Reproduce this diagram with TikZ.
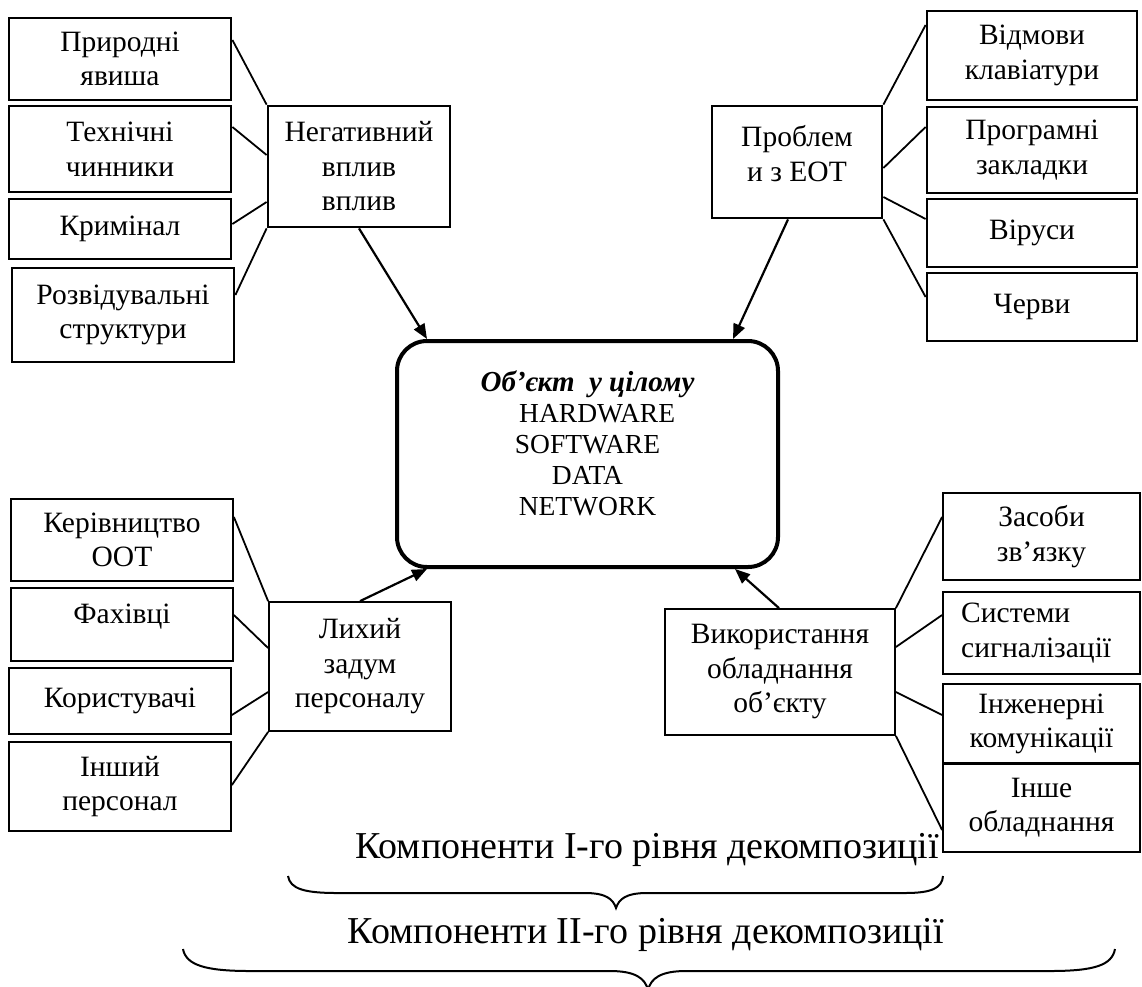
\documentclass[tikz,border=0pt]{standalone}
\usepackage{fontspec}
\setmainfont{Liberation Serif}
\usetikzlibrary{arrows.meta}
\newcommand\boxfont{\fontsize{29.5}{34.5}\selectfont}
\newcommand\objfont{\fontsize{27.5}{31}\selectfont}
\newcommand\objtitlefont{\fontsize{29}{31}\selectfont}
\newcommand\levfont{\fontsize{38}{40}\selectfont}
\begin{document}
\begin{tikzpicture}[x=1pt,y=-1pt,
  thk/.style={draw, line width=2.8pt, align=center, inner sep=0pt, font=\boxfont},
  thn/.style={draw, line width=1.8pt, align=center, inner sep=0pt, font=\boxfont},
  txt/.style={align=center, inner sep=0pt, font=\boxfont},
  conn/.style={line width=1.8pt},
  arr/.style={line width=2.2pt, -{Triangle[length=15pt,width=12pt]}},
  bracestyle/.style={line width=2pt}]
\useasboundingbox (0,0) rectangle (1142,986);

% top-left group
\node[thk, minimum width=222, minimum height=82] (prir) at (120,59) {Природні\\явиша};
\node[thk, minimum width=222, minimum height=86] (tekh) at (120,149) {Технічні\\чинники};
\node[thk, minimum width=222, minimum height=60] (krym) at (120,229) {Кримінал};
\node[thk, minimum width=222, minimum height=94] (rozv) at (123,315) {Розвідувальні\\структури};
\node[thk, minimum width=182, minimum height=121] (neg) at (359,166.5) {Негативний\\вплив\\вплив};

% top-right group
\node[thk, minimum width=210, minimum height=89] (vidm) at (1032,55.5) {Відмови\\клавіатури};
\node[thk, minimum width=210, minimum height=86] (prog) at (1032,150) {Програмні\\закладки};
\node[thk, minimum width=210, minimum height=68] (vir) at (1032,233) {Віруси};
\node[thk, minimum width=210, minimum height=68] (cherv) at (1032,307) {Черви};
\node[thk, minimum width=170, minimum height=112] (probl) at (797,162) {};
\node[txt] (probltext) at (797,153.5) {Проблем\\и з ЕОТ};

% centre
\node[draw, line width=4pt, rounded corners=30pt, minimum width=381, minimum height=226] (obj) at (587.5,454) {};
\node[align=center, inner sep=0pt, font=\objfont] (objtext) at (587.5,443)
  {{\objtitlefont\bfseries\itshape Об’єкт\ \ у цілому}\\\hspace*{0.7em}HARDWARE\\SOFTWARE\\DATA\\NETWORK};

% bottom-left group
\node[thn, minimum width=222, minimum height=82] (kerm) at (122,540) {Керівництво\\ООТ};
\node[thn, minimum width=222, minimum height=73] (fakh) at (122,624.5) {};
\node[txt] (fakhtext) at (122,617) {Фахівці};
\node[thn, minimum width=222, minimum height=66] (kory) at (120,701) {Користувачі};
\node[thn, minimum width=222, minimum height=89] (insh) at (120,786.5) {Інший\\персонал};
\node[thn, minimum width=182, minimum height=129] (lykh) at (360,666.5) {Лихий\\задум\\персоналу};

% bottom-right group
\node[thn, minimum width=230, minimum height=126] (vyk) at (780,672) {Використання\\обладнання\\об’єкту};
\node[thn, minimum width=197, minimum height=87] (zas) at (1041.5,536.5) {Засоби\\зв’язку};
\node[thn, minimum width=197, minimum height=82] (syst) at (1041.5,633) {};
\node[align=left, anchor=west, inner sep=0pt, font=\boxfont] (systtext) at (961,633) {Системи\\сигналізації};
\node[thn, minimum width=197, minimum height=80] (inzh) at (1041.5,724) {Інженерні\\комунікації};
\node[thn, minimum width=197, minimum height=89] (insho) at (1041.5,807.5) {Інше\\обладнання};

% connectors top-left
\draw[conn] (prir.east |- 0,40) -- (neg.north west);
\draw[conn] (tekh.east |- 0,127) -- (neg.west |- 0,155);
\draw[conn] (krym.east |- 0,224) -- (neg.west |- 0,202);
\draw[conn] (rozv.east |- 0,295) -- (neg.south west);
% connectors top-right
\draw[conn] (probl.north east) -- (vidm.west |- 0,25);
\draw[conn] (probl.east |- 0,168) -- (prog.west |- 0,127);
\draw[conn] (probl.east |- 0,197) -- (vir.west |- 0,219);
\draw[conn] (probl.south east) -- (cherv.west |- 0,297);
% connectors bottom-left
\draw[conn] (kerm.east |- 0,517) -- (lykh.north west);
\draw[conn] (fakh.east |- 0,615) -- (lykh.west |- 0,648);
\draw[conn] (kory.east |- 0,715) -- (lykh.west |- 0,692);
\draw[conn] (insh.east |- 0,785) -- (lykh.south west);
% connectors bottom-right
\draw[conn] (vyk.north east) -- (zas.west |- 0,517);
\draw[conn] (vyk.east |- 0,647) -- (syst.west |- 0,615);
\draw[conn] (vyk.east |- 0,692) -- (inzh.west |- 0,715);
\draw[conn] (vyk.south east) -- (insho.west |- 0,830);

% arrows to centre
\draw[arr] (neg.south -| 359,0) -- (obj.north -| 427,0);
\draw[arr] (probl.south -| 788,0) -- (obj.north -| 733,0);
\draw[arr] (lykh.north -| 360,0) -- (obj.south -| 427,0);
\draw[arr] (vyk.north -| 779,0) -- (obj.south -| 735,0);

% level labels
\node[anchor=base, inner sep=0pt, font=\levfont] (lev1) at (647,858) {Компоненти I-го рівня декомпозиції};
\node[anchor=base, inner sep=0pt, font=\levfont] (lev2) at (646,943) {Компоненти II-го рівня декомпозиції};

% braces
\draw[bracestyle] (288,876) .. controls (290,889) and (305,893) .. (337,893)
  -- (585,893) .. controls (606,893) and (613,899) .. (616,908)
  .. controls (619,899) and (626,893) .. (647,893)
  -- (905,893) .. controls (932,893) and (942,888) .. (943,876);
\draw[bracestyle] (183,949) .. controls (186,965) and (205,971) .. (250,971)
  -- (610,971) .. controls (635,971) and (645,978) .. (648,990)
  .. controls (651,978) and (661,971) .. (686,971)
  -- (1050,971) .. controls (1095,971) and (1112,965) .. (1115,949);
\end{tikzpicture}
\end{document}
